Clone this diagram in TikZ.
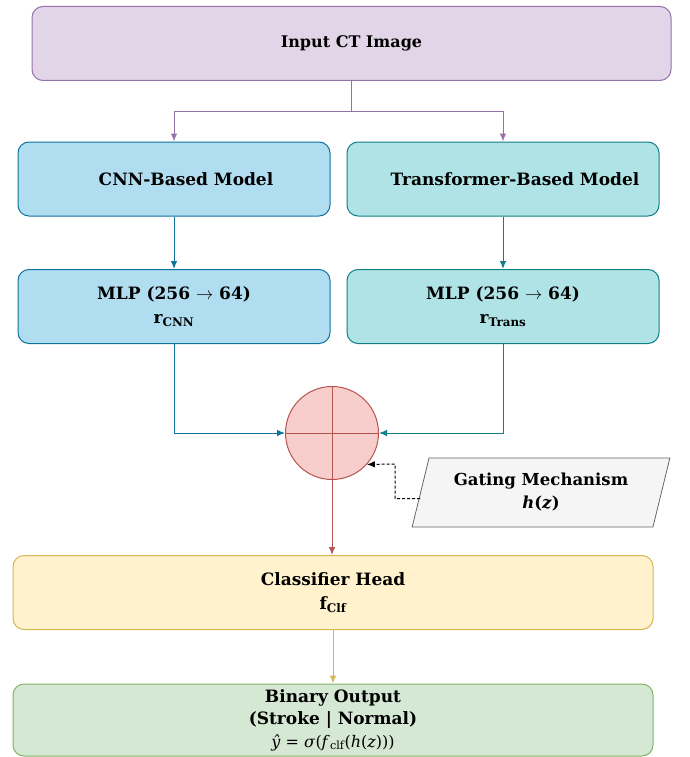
\documentclass[tikz,border=0pt]{standalone}
\usepackage{fontspec}
\setmainfont{DejaVu Serif}
\usetikzlibrary{shapes.geometric,arrows.meta}
\definecolor{mypurple}{HTML}{E1D5E7}
\definecolor{mypurpleline}{HTML}{9673A6}
\definecolor{myblue}{HTML}{B1DDF0}
\definecolor{mybluelin}{HTML}{10739E}
\definecolor{myteal}{HTML}{B0E3E6}
\definecolor{mytealline}{HTML}{0E8088}
\definecolor{myred}{HTML}{F8CECC}
\definecolor{myredline}{HTML}{B85450}
\definecolor{mygrey}{HTML}{F5F5F5}
\definecolor{mygreyline}{HTML}{666666}
\definecolor{myyellow}{HTML}{FFF2CC}
\definecolor{myyellowline}{HTML}{D6B656}
\definecolor{mygreen}{HTML}{D5E8D4}
\definecolor{mygreenline}{HTML}{82B366}

\begin{document}
\begin{tikzpicture}[x=1pt,y=-1pt,line width=1pt,>={Latex[length=8pt,width=6.5pt]},
    box/.style={draw,rounded corners=11pt,align=center,font=\bfseries\fontsize{17}{24}\selectfont},
    wide/.style={minimum width=640pt,minimum height=74pt},
    half/.style={minimum width=312pt,minimum height=74pt},
    gatebox/.style={draw=mygreyline,fill=mygrey,trapezium,trapezium left angle=73,trapezium right angle=107,
      trapezium stretches,minimum width=258pt,minimum height=69pt,line width=0.8pt,
      align=center,font=\bfseries\fontsize{16.5}{23}\selectfont}]

    \useasboundingbox (0,0) rectangle (690,757);

    % input and the two backbones
    \node[box,wide,fill=mypurple,draw=mypurpleline,minimum width=639pt,font=\bfseries\fontsize{16}{20}\selectfont](input) at (351.5,43.5) {Input CT Image};
    \node[box,half,fill=myblue,draw=mybluelin](cnn) at (174,179) {\hspace*{24pt}CNN-Based Model};
    \node[box,half,fill=myteal,draw=mytealline](trans) at (503,179) {\hspace*{24pt}Transformer-Based Model};

    % projection heads
    \node[box,half,fill=myblue,draw=mybluelin](mlpc) at (174,306.5) {MLP (256 $\rightarrow$ 64)\\r\textsubscript{CNN}};
    \node[box,half,fill=myteal,draw=mytealline](mlpt) at (503,306.5) {MLP (256 $\rightarrow$ 64)\\r\textsubscript{Trans}};

    % fusion and gate
    \node[draw=myredline,fill=myred,circle,inner sep=0pt,minimum size=93pt](sum) at (332,433) {};
    \node[gatebox](gate) at (541,492.5) {Gating Mechanism\\\textit{h}(\textit{z})};

    % classifier and output
    \node[box,wide,fill=myyellow,draw=myyellowline](clf) at (333,592.5) {Classifier Head\\f\textsubscript{Clf}};
    \node[box,wide,fill=mygreen,draw=mygreenline,minimum height=72pt,font=\bfseries\fontsize{17}{22.5}\selectfont](out) at (333,720)
      {Binary Output\\(Stroke | Normal)\\\mdseries\fontsize{16}{22.5}\selectfont\textit{ŷ} = \textit{σ}(\textit{f}\textsubscript{clf}(\textit{h}(\textit{z})))};

    \coordinate (split) at (351.5,112);
    \coordinate (gbend) at (395,464);

    \draw[mypurpleline] (input) -- (split);
    \draw[mypurpleline,->] (split) -| (cnn);
    \draw[mypurpleline,->] (split) -| (trans);

    \draw[mybluelin,->] (cnn) -- (mlpc);
    \draw[mytealline,->] (trans) -- (mlpt);

    \draw[mybluelin,->] (mlpc) |- (sum);
    \draw[mytealline,->] (mlpt) |- (sum);
    \draw[myredline] (sum.north) -- (sum.south) (sum.west) -- (sum.east);

    \draw[dash pattern=on 3pt off 2pt,->] ([yshift=-6pt]gate.west) -| (gbend) -- (sum.-42);

    \draw[myredline,->] (sum.south) -- (sum.south |- clf.north);
    \draw[myyellowline,->] (clf) -- (out);

\end{tikzpicture}
\end{document}
